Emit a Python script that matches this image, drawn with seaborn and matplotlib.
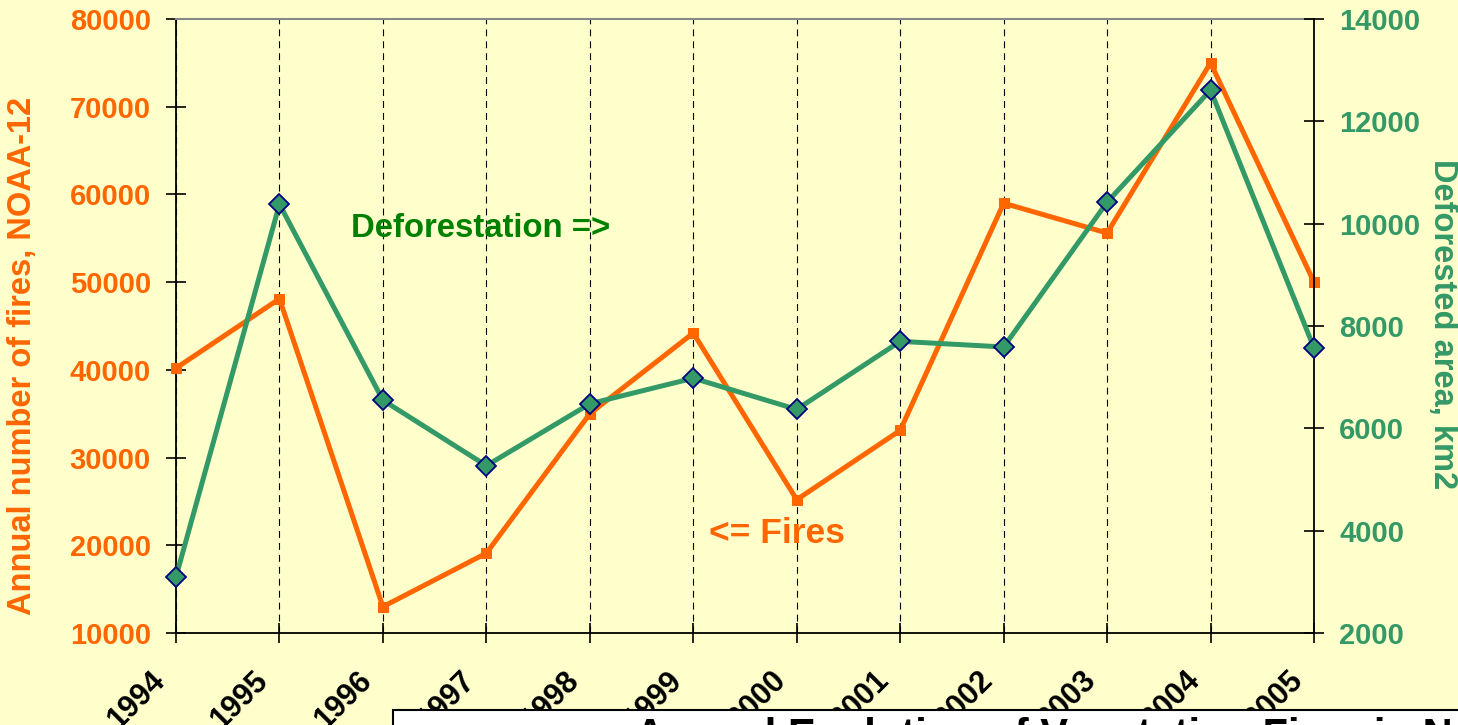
import matplotlib
matplotlib.use("Agg")
import matplotlib.pyplot as plt
import matplotlib.transforms as mtransforms
from matplotlib.patches import Rectangle
import seaborn as sns
import pandas as pd

# Annual series
years = [1994, 1995, 1996, 1997, 1998, 1999, 2000, 2001, 2002, 2003, 2004, 2005]
fires = [40200, 48100, 13000, 19100, 35000, 44200, 25200, 33100, 59000, 55600, 75000, 50000]
deforested = [3100, 10380, 6550, 5270, 6480, 6980, 6370, 7700, 7590, 10420, 12610, 7570]

fire_ticks = [10000, 20000, 30000, 40000, 50000, 60000, 70000, 80000]
area_ticks = [2000, 4000, 6000, 8000, 10000, 12000, 14000]

BG = "#FFFFCC"
ORANGE = "#FF6600"
SEA = "#339966"
DARKGREEN = "#008000"
NAVY = "#000080"

sns.set_style("white")
plt.rcParams["font.family"] = ["Liberation Sans", "DejaVu Sans"]
plt.rcParams["font.weight"] = "bold"
plt.rcParams["lines.scale_dashes"] = False

df = pd.DataFrame({"year": years, "fires": fires, "area": deforested})

fig = plt.figure(figsize=(14.58, 7.25), dpi=100, facecolor=BG)
ax = fig.add_axes([176 / 1458, 1 - 633 / 725, (1314 - 176) / 1458, (633 - 19) / 725])
ax.set_facecolor(BG)

# vertical dashed year grid
ax.grid(axis="x", color="black", linestyle=(0, (5, 3.6)), linewidth=0.8)
ax.grid(axis="y", visible=False)
ax.set_axisbelow(True)

sns.lineplot(data=df, x="year", y="fires", ax=ax, color=ORANGE, linewidth=3.6,
             marker="s", markersize=7.5, markeredgecolor=ORANGE,
             markerfacecolor=ORANGE, legend=False, clip_on=False, zorder=3)

ax.set_xlim(1994, 2005)
ax.set_ylim(10000, 80000)
ax.set_xticks(years)
ax.set_xticklabels([str(y) for y in years])
ax.set_yticks(fire_ticks)
ax.set_yticklabels([str(v) for v in fire_ticks])

ax2 = ax.twinx()
ax2.set_facecolor("none")
sns.lineplot(data=df, x="year", y="area", ax=ax2, color=SEA, linewidth=3.6,
             marker="D", markersize=10, markeredgecolor=NAVY,
             markerfacecolor=SEA, markeredgewidth=1.3, legend=False,
             clip_on=False, zorder=3)
ax2.set_ylim(2000, 14000)
ax2.set_yticks(area_ticks)
ax2.set_yticklabels([str(v) for v in area_ticks])
ax2.set_xlim(1994, 2005)

# spines
for side in ["left", "bottom"]:
    ax.spines[side].set_color("black")
    ax.spines[side].set_linewidth(1.3)
ax.spines["top"].set_color("#888888")
ax.spines["top"].set_linewidth(1.5)
ax.spines["right"].set_visible(False)
for side in ["left", "bottom", "top"]:
    ax2.spines[side].set_visible(False)
ax2.spines["right"].set_color("black")
ax2.spines["right"].set_linewidth(1.3)

# ticks
ax.tick_params(axis="y", direction="inout", length=13.7, width=1.2, color="black",
               labelsize=21, labelcolor=ORANGE, pad=11.2, left=True)
ax.tick_params(axis="x", direction="inout", length=13.7, width=1.2, color="black",
               labelsize=22, labelcolor="black", pad=28.5, bottom=True)
ax2.tick_params(axis="y", direction="inout", length=13.7, width=1.2, color="black",
                labelsize=21, labelcolor=SEA, pad=11.2, right=True)

# slanted year labels, nudged slightly left of their ticks
shift = mtransforms.ScaledTranslation(-10 / 100, 0, fig.dpi_scale_trans)
for lbl in ax.get_xticklabels():
    lbl.set_rotation(45)
    lbl.set_ha("right")
    lbl.set_va("baseline")
    lbl.set_rotation_mode("anchor")
    lbl.set_fontweight("bold")
    lbl.set_transform(lbl.get_transform() + shift)
for lbl in ax.get_yticklabels() + ax2.get_yticklabels():
    lbl.set_fontweight("bold")

# axis titles
ax.set_xlabel("")
ax.set_ylabel("Annual number of fires, NOAA-12", color=ORANGE, fontsize=23.5,
              fontweight="bold")
ax.yaxis.label.set_va("center")
ax.yaxis.set_label_coords(-0.135, 0.451)
ax2.set_ylabel("Deforested area, km2", color=SEA, fontsize=23.5,
               fontweight="bold", rotation=270)
ax2.yaxis.label.set_va("center")
ax2.yaxis.set_label_coords(1.113, 0.503)

# series annotations
ax.text(0.1538, 0.6455, "Deforestation =>", transform=ax.transAxes, color=DARKGREEN,
        fontsize=23.7, fontweight="bold", ha="left", va="baseline", zorder=5)
ax.text(0.4684, 0.1458, "<= Fires", transform=ax.transAxes, color=ORANGE,
        fontsize=25.5, fontweight="bold", ha="left", va="baseline", zorder=5)

# caption panel along the bottom edge
fig.patches.append(Rectangle((393 / 1458, -0.1), 1.2, 0.1 + (1 - 710 / 725),
                             transform=fig.transFigure, facecolor="white",
                             edgecolor="black", linewidth=1.5, zorder=10))
fig.text(635 / 1458, 1 - 748 / 725, "Annual Evolution of Vegetation Fires in Northern Mato Grosso",
         fontsize=30, fontweight="bold", color="black", ha="left", va="baseline",
         zorder=11)

fig.savefig("out.png", dpi=100, facecolor=BG)
